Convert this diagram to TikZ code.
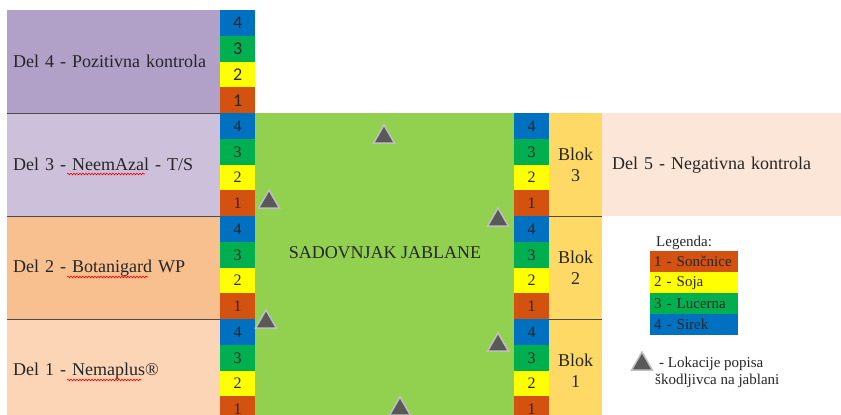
\documentclass[tikz,border=0pt]{standalone}
\usepackage{fontspec}
\setmainfont{Liberation Serif}
\newfontfamily\calfont{Carlito}
\usepackage{tikz}
\usetikzlibrary{shapes.geometric,decorations.pathmorphing}

\definecolor{cBlue}{HTML}{0070C0}
\definecolor{cGreen}{HTML}{00B050}
\definecolor{cYellow}{HTML}{FFFF00}
\definecolor{cOrange}{HTML}{D4520F}
\definecolor{cOrch}{HTML}{92D050}
\definecolor{cBlok}{HTML}{FFD966}
\definecolor{cDelA}{HTML}{FBD5B5}
\definecolor{cDelB}{HTML}{F8BF8F}
\definecolor{cDelC}{HTML}{CCC0DA}
\definecolor{cDelD}{HTML}{B1A0C7}
\definecolor{cDelE}{HTML}{FCE6D8}
\definecolor{cSep}{HTML}{4D4D4D}
\definecolor{cMark}{HTML}{595959}
\definecolor{cMarkLine}{HTML}{BFBFBF}
\definecolor{cText}{HTML}{262626}

\begin{document}
\begin{tikzpicture}[x=1pt,y=-1pt,font=\fontsize{18}{21}\selectfont,text=cText,
  panel/.style={anchor=north west,minimum height=103pt,inner ysep=0pt,inner xsep=6pt,
    text width=201pt,align=left},
  cell/.style={anchor=north west,minimum width=35pt,minimum height=25.75pt,inner sep=0pt,
    font=\fontsize{16}{16}\selectfont},
  blok/.style={anchor=north west,fill=cBlok,minimum width=53pt,minimum height=103pt,
    inner sep=0pt,align=center},
  legrow/.style={anchor=north west,minimum height=21pt,inner ysep=0pt,inner xsep=4pt,
    text width=80pt,align=left,font=\fontsize{15}{15}\selectfont},
  sepline/.style={draw=cSep,line width=1.5pt},
  squiggle/.style={draw=red,line width=0.6pt,decorate,
    decoration={snake,amplitude=0.9pt,segment length=3pt}},
  trimark/.style={regular polygon,regular polygon sides=3,fill=cMark,draw=cMarkLine,
    line width=1.5pt,minimum size=24pt,inner sep=0pt}]
  \useasboundingbox (0,0) rectangle (841,415);
  \clip (0,0) rectangle (841,415);
  % treatment parts on the left
  \node[panel,fill=cDelD] (del4) at (7,10) {Del 4 - Pozitivna kontrola};
  \node[panel,fill=cDelC] (del3) at (7,113) {Del 3 - NeemAzal - T/S};
  \node[panel,fill=cDelB] (del2) at (7,216) {Del 2 - Botanigard WP};
  \node[panel,fill=cDelA] (del1) at (7,319) {Del 1 - Nemaplus®};
  \draw[sepline] (del4.south west) -- (del4.south east);
  \draw[sepline] (del3.south west) -- (del3.south east);
  \draw[sepline] (del2.south west) -- (del2.south east);
  \draw[squiggle] (67,174) -- (145,174);
  \draw[squiggle] (67,277) -- (148,277);
  \draw[squiggle] (67,380) -- (141,380);
  % crop strips
  \foreach \part/\top in {4/10,3/113,2/216,1/319}
    \foreach \n/\c in {4/cBlue,3/cGreen,2/cYellow,1/cOrange}
      \node[cell,fill=\c] (l\part-\n) at (220,{\top+(4-\n)*25.75})
        {\ifnum\part=4 \calfont\fontsize{18}{18}\selectfont\fi\n};
  % orchard
  \node[fill=cOrch,anchor=north west,minimum width=259pt,minimum height=310pt,inner sep=0pt]
    (orch) at (255,113) {};
  \node (orchlab) at (385,253) {SADOVNJAK JABLANE};
  \foreach \blk/\top in {3/113,2/216,1/319}{
    \foreach \n/\c in {4/cBlue,3/cGreen,2/cYellow,1/cOrange}
      \node[cell,fill=\c] (r\blk-\n) at (514,{\top+(4-\n)*25.75}) {\n};
    \node[blok] (blok\blk) at (549,\top) {Blok\\\blk};
  }
  \draw[sepline] (blok3.south west) -- (blok3.south east);
  \draw[sepline] (blok2.south west) -- (blok2.south east);
  \node[panel,fill=cDelE,inner xsep=10pt,text width=219pt] (del5) at (602,113)
    {Del 5 - Negativna kontrola};
  % sampling locations
  \foreach \x/\y [count=\i] in {384/137,269/202,498/220,266/322,498/345,400/409}
    \node[trimark] (t\i) at (\x,\y) {};
  % legend
  \node[anchor=west,inner sep=0pt,font=\fontsize{15}{15}\selectfont] (leg) at (656,243) {Legenda:};
  \node[legrow,fill=cOrange] (leg1) at (650,251) {1 - Sončnice};
  \node[legrow,fill=cYellow] (leg2) at (650,272) {2 - Soja};
  \node[legrow,fill=cGreen] (leg3) at (650,293) {3 - Lucerna};
  \node[legrow,fill=cBlue] (leg4) at (650,314) {4 - Sirek};
  \node[trimark] (tleg) at (642,364) {};
  \node[anchor=west,inner sep=0pt,font=\fontsize{15}{15}\selectfont] (loc1) at (659,364) {- Lokacije popisa};
  \node[anchor=west,inner sep=0pt,font=\fontsize{15}{15}\selectfont] (loc2) at (655,381) {škodljivca na jablani};
\end{tikzpicture}
\end{document}
